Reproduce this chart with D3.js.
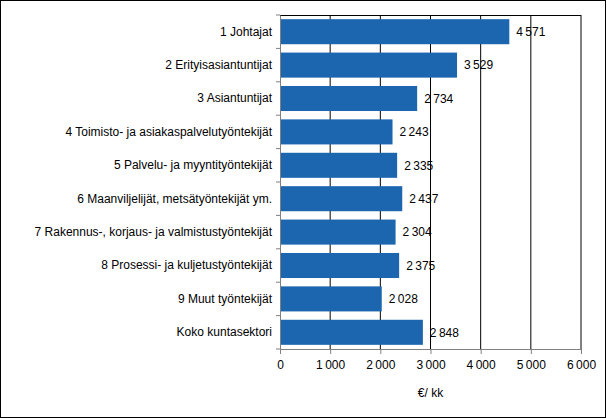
<!DOCTYPE html>
<html><head><meta charset="utf-8">
<script src="https://cdn.jsdelivr.net/npm/d3@7"></script>
<style>body{margin:0;background:#fff}</style>
</head><body>
<script>
const categories = ["1 Johtajat","2 Erityisasiantuntijat","3 Asiantuntijat","4 Toimisto- ja asiakaspalvelutyöntekijät","5 Palvelu- ja myyntityöntekijät","6 Maanviljelijät, metsätyöntekijät ym.","7 Rakennus-, korjaus- ja valmistustyöntekijät","8 Prosessi- ja kuljetustyöntekijät","9 Muut työntekijät","Koko kuntasektori"];
const values = [4571,3529,2734,2243,2335,2437,2304,2375,2028,2848];
const xTicks = [0,1000,2000,3000,4000,5000,6000];

const width = 607, height = 418;
const margin = {left: 280, right: 26, top: 15, bottom: 69};
const fmt = v => d3.format(",")(v).replace(/,/g, "\u2009");

const svg = d3.select("body").append("svg").attr("width", width).attr("height", height)
  .style("font-family", "Arial, 'Liberation Sans', sans-serif");

// frame
svg.append("rect").attr("x", 0.5).attr("y", 0.5).attr("width", width - 2).attr("height", height - 1)
  .attr("fill", "none").attr("stroke", "#000");

const x = d3.scaleLinear().domain([0, 6000]).range([margin.left, width - margin.right]);
const y = d3.scaleBand().domain(categories).range([margin.top, height - margin.bottom]).paddingInner(0.25).paddingOuter(0.125);
const yRow = d3.scaleBand().domain(categories).range([margin.top, height - margin.bottom]);

// grid
svg.append("g").selectAll("line").data(xTicks.slice(1)).join("line")
  .attr("x1", d => x(d)).attr("x2", d => x(d))
  .attr("y1", margin.top).attr("y2", height - margin.bottom)
  .attr("stroke", "#000").attr("stroke-width", 1);
svg.append("line").attr("x1", margin.left).attr("x2", x(6000))
  .attr("y1", margin.top + 0.5).attr("y2", margin.top + 0.5).attr("stroke", "#000");

// bars
svg.append("g").selectAll("rect").data(values).join("rect")
  .attr("x", x(0)).attr("y", (d, i) => y(categories[i]))
  .attr("width", d => x(d) - x(0)).attr("height", y.bandwidth())
  .attr("fill", "#1c66b0");

svg.append("g").selectAll("text").data(values).join("text")
  .attr("x", d => x(d) + 7).attr("y", (d, i) => y(categories[i]) + y.bandwidth() / 2)
  .attr("dy", "0.35em").attr("font-size", 12).text(fmt);

// y axis
const ya = svg.append("g").attr("transform", `translate(${x(0)},0)`)
  .call(d3.axisLeft(yRow).tickSize(0).tickPadding(8));
ya.selectAll("text").attr("font-size", 12).attr("fill", "#000").style("font-family", "Arial, 'Liberation Sans', sans-serif");
ya.select(".domain").attr("stroke", "#808080");
ya.selectAll(".sep").data(categories.concat(["_end"])).join("line")
  .attr("x1", -4).attr("x2", 0)
  .attr("y1", (d, i) => margin.top + i * yRow.step()).attr("y2", (d, i) => margin.top + i * yRow.step())
  .attr("stroke", "#808080");

// x axis
const xa = svg.append("g").attr("transform", `translate(0,${height - margin.bottom})`)
  .call(d3.axisBottom(x).tickValues(xTicks).tickSize(5).tickPadding(6).tickFormat(fmt));
xa.selectAll("text").attr("font-size", 12).attr("fill", "#000").style("font-family", "Arial, 'Liberation Sans', sans-serif");
xa.selectAll("line, .domain").attr("stroke", "#808080");

svg.append("text").attr("x", (x(0) + x(6000)) / 2).attr("y", 397)
  .attr("text-anchor", "middle").attr("font-size", 12).text("€/ kk");
</script>
</body></html>
